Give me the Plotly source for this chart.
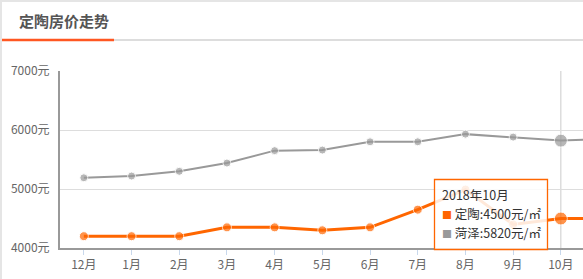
import plotly.graph_objects as go

months = ['12月', '1月', '2月', '3月', '4月', '5月', '6月', '7月', '8月', '9月', '10月', '11月']
dingtao = [4200, 4200, 4200, 4350, 4350, 4300, 4350, 4650, 4990, 4400, 4500, 4500]
heze = [5190, 5220, 5300, 5440, 5650, 5660, 5800, 5800, 5930, 5880, 5820, 5850]
yticks = [4000, 5000, 6000, 7000]
hover_month = '10月'
tooltip_title = '2018年10月'

W, H = 583, 279
L, R, T, B = 60, 0, 71, 31
pw, ph = W - L - R, H - T - B

FONT = "Noto Sans CJK SC"
ORANGE = '#ff6600'
GRAY = '#999999'

def px_x(p):
    return (p - L) / pw

def px_y(p):
    return (H - B - p) / ph

hi = months.index(hover_month)
sz_o = [13 if i == hi else 9 for i in range(len(months))]
sz_g = [13 if i == hi else 8 for i in range(len(months))]

fig = go.Figure()
fig.add_trace(go.Scatter(x=months, y=heze, mode='lines+markers', name='菏泽',
                         line=dict(color=GRAY, width=2), marker=dict(color=GRAY, size=sz_g),
                         cliponaxis=True))
fig.add_trace(go.Scatter(x=months, y=dingtao, mode='lines+markers', name='定陶',
                         line=dict(color=ORANGE, width=3), marker=dict(color=ORANGE, size=sz_o),
                         cliponaxis=True))

# tooltip box geometry (pixels)
tx0, tx1, ty0, ty1 = 434.5, 547.5, 179.5, 249.5

shapes = [
    dict(type='line', xref='paper', yref='paper', x0=px_x(1), x1=px_x(1), y0=px_y(0), y1=px_y(H),
         line=dict(color='#e5e5e5', width=2)),
    dict(type='line', xref='paper', yref='paper', x0=px_x(0), x1=px_x(W), y0=px_y(1), y1=px_y(1),
         line=dict(color='#e5e5e5', width=2)),
    dict(type='line', xref='paper', yref='paper', x0=px_x(114), x1=px_x(W), y0=px_y(40), y1=px_y(40),
         line=dict(color='#dddddd', width=2)),
    dict(type='line', xref='paper', yref='paper', x0=px_x(2), x1=px_x(114), y0=px_y(40), y1=px_y(40),
         line=dict(color='#ff5722', width=2.5)),
    dict(type='line', xref='x', yref='paper', x0=hover_month, x1=hover_month, y0=0, y1=1,
         line=dict(color='#cccccc', width=1), layer='below'),
    dict(type='rect', xref='paper', yref='paper', x0=px_x(tx0), x1=px_x(tx1), y0=px_y(ty1), y1=px_y(ty0),
         fillcolor='rgba(255,255,255,0.85)', line=dict(color=ORANGE, width=1.3), layer='above'),
]

tip_lines = [
    tooltip_title,
    f"<span style='color:{ORANGE};font-size:10px'>■</span> 定陶:{dingtao[hi]}元/㎡",
    f"<span style='color:{GRAY};font-size:10px'>■</span> 菏泽:{heze[hi]}元/㎡",
]
tip_y = [194, 213, 232]

annotations = [
    dict(text='定陶房价走势', xref='paper', yref='paper', x=px_x(17), y=px_y(21),
         xanchor='left', yanchor='middle', showarrow=False,
         font=dict(family=FONT, size=15, color='#555555', weight='bold')),
]
for txt, yy in zip(tip_lines, tip_y):
    annotations.append(dict(text=txt, xref='paper', yref='paper', x=px_x(440), y=px_y(yy),
                            xanchor='left', yanchor='middle', showarrow=False, align='left',
                            font=dict(family=FONT, size=12.5, color='#333333')))

fig.update_layout(
    width=W, height=H,
    margin=dict(l=L, r=R, t=T, b=B, pad=0),
    paper_bgcolor='white', plot_bgcolor='white',
    showlegend=False,
    shapes=shapes, annotations=annotations,
    font=dict(family=FONT, size=12, color='#666666'),
    xaxis=dict(type='category', categoryorder='array', categoryarray=months,
               range=[-0.5, (W - L) / (47.7) - 0.5], showgrid=False, zeroline=False,
               showline=True, linecolor='#999999', linewidth=2,
               ticks='outside', ticklen=5, tickcolor='#c8d8ec', tickwidth=1,
               tickfont=dict(family=FONT, size=12, color='#666666')),
    yaxis=dict(range=[4000, 7000], tickvals=yticks, ticktext=[f'{v}元' for v in yticks],
               showgrid=True, gridcolor='#dddddd', gridwidth=1, zeroline=False,
               showline=True, linecolor='#999999', linewidth=2, ticks='', ticklabelstandoff=6,
               tickfont=dict(family=FONT, size=12, color='#666666')),
)

fig.write_html('out.html')
